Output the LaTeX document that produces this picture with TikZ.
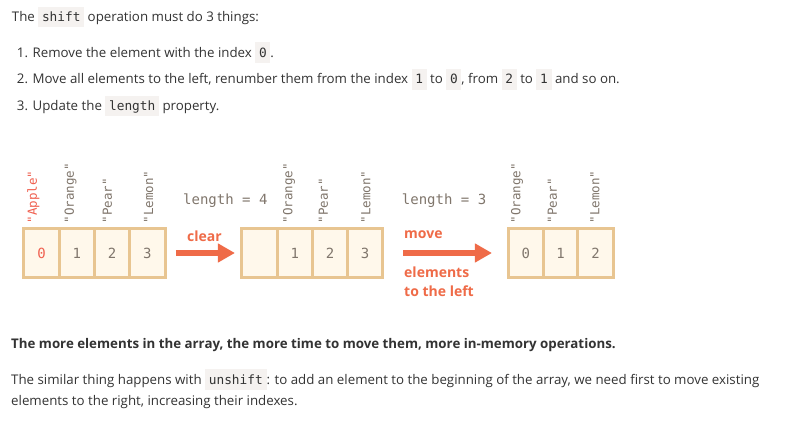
\documentclass[tikz,border=0pt]{standalone}
\usepackage{fontspec}
\setmainfont{Open Sans}
\setmonofont{DejaVu Sans Mono}
\usetikzlibrary{arrows.meta,positioning}
\definecolor{ink}{RGB}{51,51,51}
\definecolor{codebg}{RGB}{245,242,240}
\definecolor{celledge}{RGB}{232,197,145}
\definecolor{cellfill}{RGB}{255,248,235}
\definecolor{coral}{RGB}{239,107,72}
\definecolor{fruitred}{RGB}{240,96,80}
\definecolor{idxgray}{RGB}{128,118,108}
\newcommand{\code}[1]{{\setlength{\fboxsep}{0pt}\colorbox{codebg}{\rule[-5.8pt]{0pt}{20.8pt}\hspace{3.7pt}{\ttfamily\fontsize{12.8}{14}\selectfont #1}\hspace{3.7pt}}}}

\begin{document}
\begin{tikzpicture}[x=1pt,y=-1pt,
  txt/.style={anchor=base west,inner sep=0pt,text=ink,font=\fontsize{13.3}{16}\selectfont},
  cell/.style={draw=celledge,fill=cellfill,line width=3pt,minimum width=35.3pt,minimum height=49.5pt,
    inner sep=0pt,outer sep=0pt,text=idxgray,font=\ttfamily\fontsize{14}{16}\selectfont},
  fruit/.style={rotate=90,anchor=west,inner sep=0pt,text=idxgray,font=\ttfamily\fontsize{12.5}{14}\selectfont},
  lenlabel/.style={anchor=west,inner sep=0pt,text=idxgray,font=\ttfamily\fontsize{14}{16}\selectfont},
  opnote/.style={anchor=west,inner sep=0pt,text=coral,align=left,font=\bfseries\fontsize{14}{18.4}\selectfont},
  bigarrow/.style={coral,line width=6pt,-{Triangle[length=17pt,width=18pt]}}]
  \fill[white] (0,0) rectangle (797,422);
  \useasboundingbox (0,0) rectangle (797,422);

  % text above
  \node[txt] (intro) at (11.7,21.7) {The \code{shift} operation must do 3 things:};
  \node[txt] (step1) at (16.7,57.3) {1. Remove the element with the index \code{0}.};
  \node[txt] (step2) at (16.7,84) {2. Move all elements to the left, renumber them from the index \code{1} to \code{0}, from \code{2} to \code{1} and so on.};
  \node[txt] (step3) at (16.7,110.7) {3. Update the \code{length} property.};

  % array before
  \node[cell,text=fruitred] (a0) at (41.5,253) {0};
  \node[fruit,text=fruitred] (fa0) at (33.3,223.5) {"Apple"};
  \foreach \i/\fx/\fn in {1/70.5/Orange,2/107.5/Pear,3/148.7/Lemon}{
    \node[cell] (a\i) at ({41.5+35.3*\i},253) {\i};
    \node[fruit] (fa\i) at (\fx,223.5) {"\fn"};
  }
  \node[lenlabel] (lena) at (183,200.5) {length = 4};

  % array after clear
  \node[cell] (b0) at (259.6,253) {};
  \foreach \i/\fx/\fn in {1/289/Orange,2/323.3/Pear,3/366/Lemon}{
    \node[cell] (b\i) at ({259.6+35.2*\i},253) {\i};
    \node[fruit] (fb\i) at (\fx,223.5) {"\fn"};
  }
  \node[lenlabel] (lenb) at (401.7,200.5) {length = 3};

  % array after move
  \foreach \i/\fx/\fn in {0/517/Orange,1/552.5/Pear,2/595/Lemon}{
    \node[cell] (c\i) at ({525.8+34.9*\i},253) {\i};
    \node[fruit] (fc\i) at (\fx,223.5) {"\fn"};
  }

  % arrows
  \coordinate[right=10.8pt of a3] (clrS);
  \coordinate[left=7pt of b0] (clrE);
  \draw[bigarrow] (clrS) -- (clrE);
  \node[opnote] (clr) at (187,236) {clear};
  \coordinate[right=20.2pt of b3] (mvS);
  \coordinate[left=16.2pt of c0] (mvE);
  \draw[bigarrow] (mvS) -- (mvE);
  \node[opnote] (mv) at (404,234.3) {move};
  \node[opnote,anchor=north west] (mvl) at (404,267) {elements\\to the left};

  % text below
  \node[txt,font=\bfseries\fontsize{13.3}{16}\selectfont] (note) at (11,348.7) {The more elements in the array, the more time to move them, more in-memory operations.};
  \node[txt] (unsh1) at (11,384) {The similar thing happens with \code{unshift}: to add an element to the beginning of the array, we need first to move existing};
  \node[txt] (unsh2) at (11,405.7) {elements to the right, increasing their indexes.};
\end{tikzpicture}
\end{document}
